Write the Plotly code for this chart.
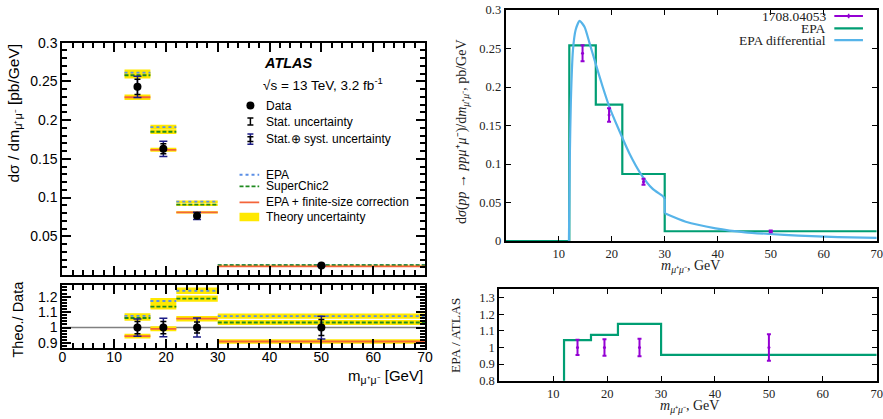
import plotly.graph_objects as go

# ---------------- data (left: ATLAS figure) ----------------
bin_lo = [12, 17, 22, 30]
bin_hi = [17, 22, 30, 70]
atlas_x = [14.5, 19.5, 26.0, 50.0]
atlas_y = [0.243, 0.163, 0.0765, 0.0122]
atlas_stat = [0.0097, 0.0065, 0.0027, 0.00063]
atlas_tot = [0.0136, 0.0098, 0.0047, 0.0009]
epa_y = [0.2613, 0.191, 0.0947, 0.0131]
sc_y = [0.258, 0.185, 0.0908, 0.0126]
fs_y = [0.2296, 0.1617, 0.0809, 0.0111]
theory_rel_unc = [0.016, 0.016, 0.017, 0.016]

# ---------------- data (right: EPA comparison) ----------------
hist_edges = [0, 12, 17, 22, 30, 70]
epa_hist = [0.0, 0.254, 0.177, 0.087, 0.0127]
ref_x = [14.5, 19.5, 26.0, 50.0]
ref_y = [0.2437, 0.1636, 0.077, 0.0125]
ref_err = [0.0104, 0.0087, 0.004, 0.001]
diff_x_low = [11.93, 12.1, 12.3, 12.69, 13.19, 13.94, 14.88, 15.82, 16.94, 18.31,
              19.57, 21.13, 23.32, 25.51, 27.69, 29.76, 30.0]
diff_y_low = [0.0, 0.11, 0.183, 0.248, 0.274, 0.286, 0.278, 0.257, 0.231, 0.200,
              0.174, 0.148, 0.114, 0.087, 0.068, 0.0576, 0.055]
diff_x_high = [30.0, 33.96, 39.6, 45.2, 49.9, 55.2, 60.2, 65.2, 70.0]
diff_y_high = [0.036, 0.025, 0.0165, 0.0113, 0.0091, 0.0069, 0.0056, 0.0046, 0.0040]
ratio_epa = [0.0, 1.044, 1.076, 1.142, 0.956]
ratio_err = [0.046, 0.05, 0.053, 0.08]

SANS = "Liberation Sans, Arial, sans-serif"
SERIF = "Liberation Serif, Times New Roman, serif"
YEL = "#ffe800"
C_EPA = "#5b8fe6"
C_SC = "#1f8a1f"
C_FS = "#f4643a"
NAVY = "#1c1c86"
GREEN = "#009e73"
BLUE = "#56b4e9"
PURPLE = "#9400d3"

fig = go.Figure()


def segs(vals):
    xs, ys = [], []
    for lo, hi, v in zip(bin_lo, bin_hi, vals):
        xs += [lo, hi, None]
        ys += [v, v, None]
    return xs, ys


def bands(vals, rel):
    xs, ys = [], []
    for lo, hi, v, r in zip(bin_lo, bin_hi, vals, rel):
        d = v * r
        xs += [lo, hi, hi, lo, lo, None]
        ys += [v - d, v - d, v + d, v + d, v - d, None]
    return xs, ys


def add_panel(vals_list, data_y, stat, tot, xa, ya):
    for vals in vals_list:
        bx, by = bands(vals, theory_rel_unc)
        fig.add_trace(go.Scatter(x=bx, y=by, fill="toself", fillcolor=YEL, mode="none",
                                 hoverinfo="skip", showlegend=False, xaxis=xa, yaxis=ya))
    styles = [(C_EPA, "dot"), (C_SC, "4px,2px"), (C_FS, "solid")]
    for vals, (c, d) in zip(vals_list, styles):
        sx, sy = segs(vals)
        fig.add_trace(go.Scatter(x=sx, y=sy, mode="lines", line=dict(color=c, dash=d, width=1.8),
                                 showlegend=False, xaxis=xa, yaxis=ya))
    fig.add_trace(go.Scatter(x=atlas_x, y=data_y, mode="markers", marker=dict(size=1, color=NAVY, opacity=0),
                             error_y=dict(type="data", array=tot, color=NAVY, thickness=1.5, width=4),
                             showlegend=False, xaxis=xa, yaxis=ya))
    fig.add_trace(go.Scatter(x=atlas_x, y=data_y, mode="markers", marker=dict(size=8, color="black"),
                             error_y=dict(type="data", array=stat, color="black", thickness=1.5, width=3),
                             showlegend=False, xaxis=xa, yaxis=ya))


# left main panel
add_panel([epa_y, sc_y, fs_y], atlas_y, atlas_stat, atlas_tot, "x", "y")

# left ratio panel
fig.add_trace(go.Scatter(x=[0, 70], y=[1, 1], mode="lines", line=dict(color="#808080", width=1.5),
                         showlegend=False, xaxis="x2", yaxis="y2"))
r_epa = [e / a for e, a in zip(epa_y, atlas_y)]
r_sc = [e / a for e, a in zip(sc_y, atlas_y)]
r_fs = [e / a for e, a in zip(fs_y, atlas_y)]
add_panel([r_epa, r_sc, r_fs], [1, 1, 1, 1],
          [s / a for s, a in zip(atlas_stat, atlas_y)],
          [t / a for t, a in zip(atlas_tot, atlas_y)], "x2", "y2")

# left legend samples
LX = 36.3
fig.add_trace(go.Scatter(x=[LX], y=[0.2188], mode="markers", marker=dict(size=8, color="black"),
                         showlegend=False, xaxis="x", yaxis="y"))
fig.add_trace(go.Scatter(x=[LX], y=[0.1982], mode="markers", marker=dict(size=1, color="black", opacity=0),
                         error_y=dict(type="data", array=[0.0045], color="black", thickness=1.5, width=3),
                         showlegend=False, xaxis="x", yaxis="y"))
fig.add_trace(go.Scatter(x=[LX], y=[0.1755], mode="markers", marker=dict(size=1, color=NAVY, opacity=0),
                         error_y=dict(type="data", array=[0.0065], color=NAVY, thickness=1.5, width=3),
                         showlegend=False, xaxis="x", yaxis="y"))
fig.add_trace(go.Scatter(x=[LX], y=[0.1755], mode="markers", marker=dict(size=1, color="black", opacity=0),
                         error_y=dict(type="data", array=[0.003], color="black", thickness=1.5, width=3),
                         showlegend=False, xaxis="x", yaxis="y"))
for yy, c, d in [(0.1295, C_EPA, "dot"), (0.1144, C_SC, "4px,2px"), (0.0938, C_FS, "solid")]:
    fig.add_trace(go.Scatter(x=[34.2, 38.0], y=[yy, yy], mode="lines", line=dict(color=c, dash=d, width=1.8),
                             showlegend=False, xaxis="x", yaxis="y"))
fig.add_trace(go.Scatter(x=[34.2, 38.0, 38.0, 34.2, 34.2], y=[0.0693, 0.0693, 0.0805, 0.0805, 0.0693],
                         fill="toself", fillcolor=YEL, mode="none", showlegend=False, xaxis="x", yaxis="y"))

# right top panel
fig.add_trace(go.Scatter(x=hist_edges, y=epa_hist + [epa_hist[-1]], mode="lines", line_shape="hv",
                         line=dict(color=GREEN, width=2.2), showlegend=False, xaxis="x3", yaxis="y3"))
fig.add_trace(go.Scatter(x=diff_x_low, y=diff_y_low, mode="lines", line=dict(color=BLUE, width=2.2, shape="spline", smoothing=0.6),
                         showlegend=False, xaxis="x3", yaxis="y3"))
fig.add_trace(go.Scatter(x=[diff_x_low[-1], diff_x_high[0]], y=[diff_y_low[-1], diff_y_high[0]], mode="lines",
                         line=dict(color=BLUE, width=2.2), showlegend=False, xaxis="x3", yaxis="y3"))
fig.add_trace(go.Scatter(x=diff_x_high, y=diff_y_high, mode="lines", line=dict(color=BLUE, width=2.2, shape="spline", smoothing=0.6),
                         showlegend=False, xaxis="x3", yaxis="y3"))
fig.add_trace(go.Scatter(x=ref_x, y=ref_y, mode="markers", marker=dict(size=3, color=PURPLE),
                         error_y=dict(type="data", array=ref_err, color=PURPLE, thickness=2, width=2),
                         showlegend=False, xaxis="x3", yaxis="y3"))
# right legend samples
fig.add_trace(go.Scatter(x=[62.0, 67.4], y=[0.2922, 0.2922], mode="lines", line=dict(color=PURPLE, width=2.2),
                         showlegend=False, xaxis="x3", yaxis="y3"))
fig.add_trace(go.Scatter(x=[64.7], y=[0.2922], mode="markers", marker=dict(size=3, color=PURPLE),
                         error_y=dict(type="data", array=[0.003], color=PURPLE, thickness=1.5, width=0),
                         showlegend=False, xaxis="x3", yaxis="y3"))
fig.add_trace(go.Scatter(x=[62.0, 67.4], y=[0.2762, 0.2762], mode="lines", line=dict(color=GREEN, width=2.2),
                         showlegend=False, xaxis="x3", yaxis="y3"))
fig.add_trace(go.Scatter(x=[62.0, 67.4], y=[0.261, 0.261], mode="lines", line=dict(color=BLUE, width=2.2),
                         showlegend=False, xaxis="x3", yaxis="y3"))

# right bottom panel
fig.add_trace(go.Scatter(x=hist_edges, y=ratio_epa + [ratio_epa[-1]], mode="lines", line_shape="hv",
                         line=dict(color=GREEN, width=2.2), showlegend=False, xaxis="x4", yaxis="y4"))
fig.add_trace(go.Scatter(x=ref_x, y=[1, 1, 1, 1], mode="markers", marker=dict(size=3, color=PURPLE),
                         error_y=dict(type="data", array=ratio_err, color=PURPLE, thickness=2, width=2),
                         showlegend=False, xaxis="x4", yaxis="y4"))

left_ax = dict(showline=True, linewidth=2, linecolor="black", mirror="allticks", ticks="inside",
               tickcolor="black", tickwidth=1.5, showgrid=False, zeroline=False, automargin=False,
               tickfont=dict(family=SANS, size=14, color="black"))
right_ax = dict(showline=True, linewidth=2, linecolor="black", mirror="allticks", ticks="inside",
                tickcolor="black", tickwidth=1.2, ticklen=5, showgrid=False, zeroline=False, automargin=False,
                tickfont=dict(family=SERIF, size=12.5, color="#222"))

fig.update_layout(
    width=883, height=419, margin=dict(l=0, r=0, t=0, b=0, autoexpand=False),
    paper_bgcolor="white", plot_bgcolor="white", showlegend=False,
    xaxis=dict(domain=[0.0706, 0.4813], anchor="y", range=[0, 70], dtick=10, showticklabels=False,
               ticklen=9, minor=dict(dtick=2, ticks="inside", ticklen=5, tickcolor="black"), **left_ax),
    yaxis=dict(domain=[0.3437, 0.898], anchor="x", range=[0, 0.3],
               tickvals=[0.05, 0.1, 0.15, 0.2, 0.25, 0.3], ticktext=["0.05", "0.1", "0.15", "0.2", "0.25", "0.3"],
               ticklen=9, minor=dict(dtick=0.01, ticks="inside", ticklen=5, tickcolor="black"), **left_ax),
    xaxis2=dict(domain=[0.0706, 0.4813], anchor="y2", range=[0, 70], dtick=10, ticklabelstandoff=-4,
                ticklen=9, minor=dict(dtick=2, ticks="inside", ticklen=5, tickcolor="black"), **left_ax),
    yaxis2=dict(domain=[0.1702, 0.3198], anchor="x2", range=[0.87, 1.275],
                tickvals=[0.9, 1.0, 1.1, 1.2], ticktext=["0.9", "1", "1.1", "1.2"],
                ticklen=9, minor=dict(dtick=0.02, ticks="inside", ticklen=5, tickcolor="black"), **left_ax),
    xaxis3=dict(domain=[0.5727, 0.9929], anchor="y3", range=[0, 70],
                tickvals=[10, 20, 30, 40, 50, 60, 70], **right_ax),
    yaxis3=dict(domain=[0.4248, 0.9761], anchor="x3", range=[0, 0.3],
                tickvals=[0, 0.05, 0.1, 0.15, 0.2, 0.25, 0.3],
                ticktext=["0", "0.05", "0.1", "0.15", "0.2", "0.25", "0.3"], **right_ax),
    xaxis4=dict(domain=[0.5655, 0.9929], anchor="y4", range=[0, 70],
                tickvals=[10, 20, 30, 40, 50, 60, 70], **right_ax),
    yaxis4=dict(domain=[0.0914, 0.3095], anchor="x4", range=[0.8, 1.35],
                tickvals=[0.8, 0.9, 1.0, 1.1, 1.2, 1.3],
                ticktext=["0.8", "0.9", "1", "1.1", "1.2", "1.3"], **right_ax),
)

ann = []
# left axis titles
ann.append(dict(text="dσ / dm<sub>μ⁺μ⁻</sub> [pb/GeV]", xref="paper", yref="paper", x=14 / 883, y=1 - 42 / 419,
                xanchor="center", yanchor="top", textangle=-90, showarrow=False,
                font=dict(family=SANS, size=15.5, color="black")))
ann.append(dict(text="Theo./ Data", xref="paper", yref="paper", x=17 / 883, y=1 - 279 / 419,
                xanchor="center", yanchor="top", textangle=-90, showarrow=False,
                font=dict(family=SANS, size=14.5, color="black")))
ann.append(dict(text="m<sub>μ⁺μ⁻</sub> [GeV]", xref="paper", yref="paper", x=425 / 883, y=1 - 376 / 419,
                xanchor="right", yanchor="middle", showarrow=False,
                font=dict(family=SANS, size=15, color="black")))
# left legend text
ann.append(dict(text="<b><i>ATLAS</i></b>", xref="x", yref="y", x=38.5, y=0.2742, xanchor="left",
                yanchor="middle", showarrow=False, font=dict(family=SANS, size=14.5, color="black")))
ann.append(dict(text="√s = 13 TeV, 3.2 fb<sup>-1</sup>", xref="x", yref="y", x=38.4, y=0.2464,
                xanchor="left", yanchor="middle", showarrow=False,
                font=dict(family=SANS, size=13.5, color="black")))
for txt, yy in [("Data", 0.2188), ("Stat. uncertainty", 0.1982), ("Stat.⊕ syst. uncertainty", 0.1755),
                ("EPA", 0.1295), ("SuperChic2", 0.1144), ("EPA + finite-size correction", 0.0938),
                ("Theory uncertainty", 0.0754)]:
    ann.append(dict(text=txt, xref="x", yref="y", x=39.0, y=yy, xanchor="left", yanchor="middle",
                    showarrow=False, font=dict(family=SANS, size=12, color="black")))
# right legend text
for txt, yy in [("1708.04053", 0.2922), ("EPA", 0.2762), ("EPA differential", 0.261)]:
    ann.append(dict(text=txt, xref="x3", yref="y3", x=60.8, y=yy, xanchor="right", yanchor="middle",
                    showarrow=False, font=dict(family=SERIF, size=13.5, color="#222")))
# right axis titles
ann.append(dict(text="d<i>σ</i>(<i>pp</i> → <i>ppμ</i>⁺<i>μ</i>⁻)/d<i>m</i><sub><i>μ</i>⁺<i>μ</i>⁻</sub>, pb/GeV",
                xref="paper", yref="paper", x=462 / 883, y=1 - 132 / 419, xanchor="center", yanchor="middle",
                textangle=-90, showarrow=False, font=dict(family=SERIF, size=14, color="#222")))
ann.append(dict(text="<i>m</i><sub><i>μ</i>⁺<i>μ</i>⁻</sub>, GeV", xref="paper", yref="paper",
                x=690 / 883, y=1 - 266 / 419, xanchor="center", yanchor="middle", showarrow=False,
                font=dict(family=SERIF, size=14, color="#222")))
ann.append(dict(text="EPA / ATLAS", xref="paper", yref="paper", x=455 / 883, y=1 - 336 / 419,
                xanchor="center", yanchor="middle", textangle=-90, showarrow=False,
                font=dict(family=SERIF, size=13.5, color="#222")))
ann.append(dict(text="<i>m</i><sub><i>μ</i>⁺<i>μ</i>⁻</sub>, GeV", xref="paper", yref="paper",
                x=689 / 883, y=1 - 406 / 419, xanchor="center", yanchor="middle", showarrow=False,
                font=dict(family=SERIF, size=14, color="#222")))
fig.update_layout(annotations=ann)

fig.write_html("out.html", config={"displayModeBar": False},
               post_script="document.body.style.margin='0';document.body.style.overflow='hidden';")
